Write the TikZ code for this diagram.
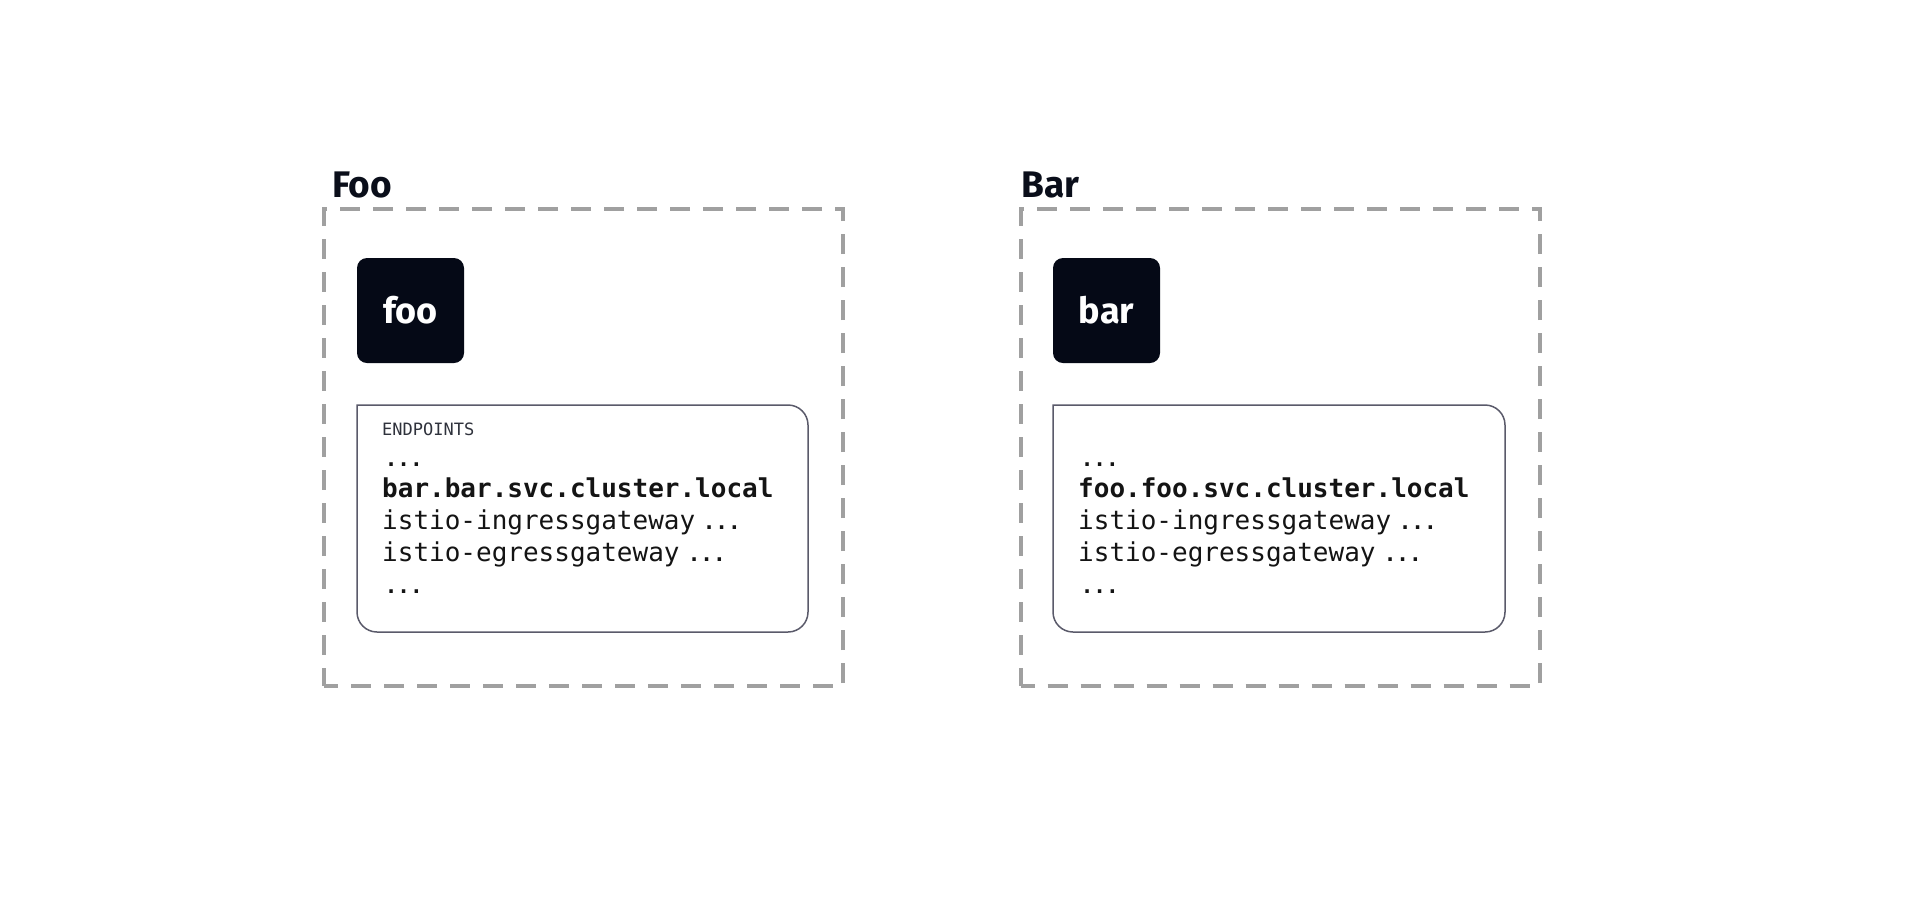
\documentclass[tikz,border=0pt]{standalone}
\usepackage{fontspec}
\newfontfamily\headfont{Fira Sans}
\newfontfamily\monofont{DejaVu Sans Mono}
\definecolor{ink}{HTML}{0A0E1A}
\definecolor{navy}{HTML}{050916}
\definecolor{dashgray}{HTML}{A0A0A0}
\definecolor{edge}{HTML}{5A5A6A}
\begin{document}
\begin{tikzpicture}[x=1pt,y=-1pt,
  frame/.style={draw=dashgray, line width=4pt, dash pattern=on 20pt off 13pt, dash phase=6pt, rectangle, inner sep=0pt, minimum width=519pt, minimum height=477pt},
  title/.style={anchor=base west, inner sep=0pt, text=ink, font=\headfont\bfseries\fontsize{37}{42}\selectfont},
  svc/.style={fill=navy, rounded corners=10pt, minimum width=107pt, minimum height=105pt, inner sep=0pt, text=white, font=\headfont\bfseries\fontsize{36}{40}\selectfont},
  epbox/.style={draw=edge, line width=1.5pt, rounded corners=20pt, line cap=rect},
  small/.style={anchor=base west, inner sep=0pt, text=ink!85, font=\monofont\fontsize{17}{20}\selectfont},
  line/.style={anchor=base west, inner sep=0pt, text=black!92, font=\monofont\fontsize{26}{30}\selectfont},
  bold/.style={line, font=\monofont\bfseries\fontsize{26}{30}\selectfont},
  dots/.style={anchor=base west, inner sep=0pt, text=black!92, font=\monofont\bfseries\fontsize{21}{24}\selectfont}]
\useasboundingbox[fill=white] (0,0) rectangle (1916,914);

% ---------- Foo ----------
\node[frame] (fooframe) at (583.5,447.5) {};
\node[title] (footitle) at (332,197) {Foo};
\node[svc] (foo) at (410.5,310.5) {foo};
\draw[epbox] (357,405) -- (808,405) -- (808,632) -- (357,632) -- (357,405);
\node[small] (fooep) at (382,435) {ENDPOINTS};
\node[dots] (foodots1) at (384.6,466) {...};
\node[bold] (foosvc) at (382,497) {bar.bar.svc.cluster.local};
\node[line] (fooing) at (382,529) {istio-ingressgateway};
\node[dots] (fooingd) at (702.6,529) {...};
\node[line] (fooegr) at (382,561) {istio-egressgateway};
\node[dots] (fooegrd) at (687.6,561) {...};
\node[dots] (foodots2) at (384.6,593) {...};

% ---------- Bar ----------
\node[frame] (barframe) at (1280,447.5) {};
\node[title] (bartitle) at (1021,197) {Bar};
\node[svc] (bar) at (1106.5,310.5) {bar};
\draw[epbox] (1053,405) -- (1505,405) -- (1505,632) -- (1053,632) -- (1053,405);
\node[dots] (bardots1) at (1080.6,466) {...};
\node[bold] (barsvc) at (1078,497) {foo.foo.svc.cluster.local};
\node[line] (baring) at (1078,529) {istio-ingressgateway};
\node[dots] (baringd) at (1398.6,529) {...};
\node[line] (baregr) at (1078,561) {istio-egressgateway};
\node[dots] (baregrd) at (1383.6,561) {...};
\node[dots] (bardots2) at (1080.6,593) {...};
\end{tikzpicture}
\end{document}
